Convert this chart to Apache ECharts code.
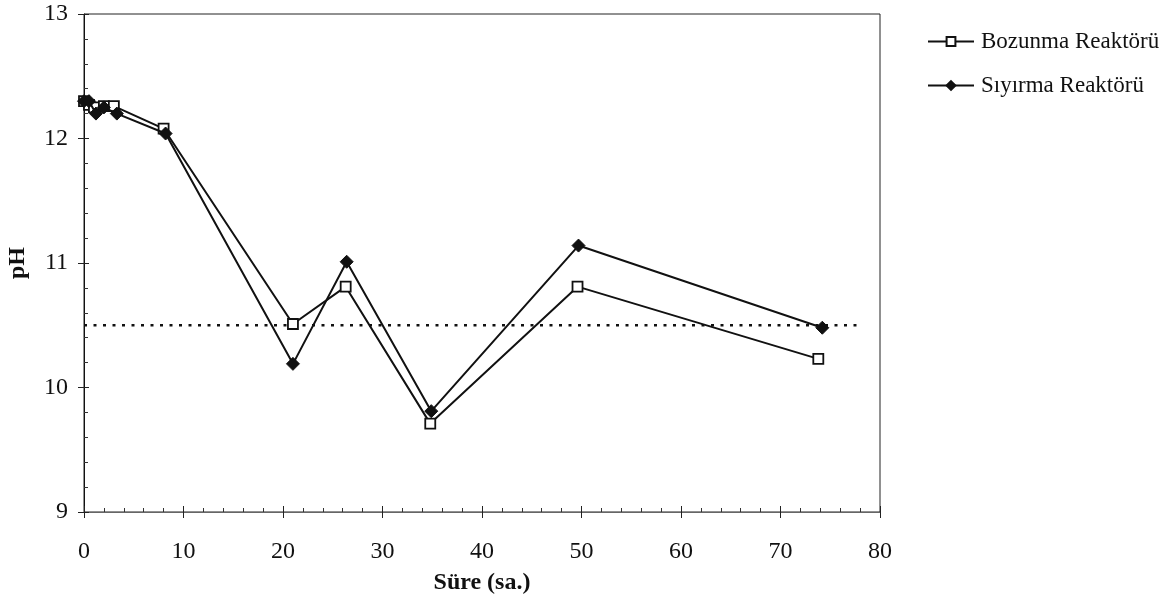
<!DOCTYPE html>
<html>
<head>
<meta charset="utf-8">
<script src="https://cdn.jsdelivr.net/npm/echarts@6/dist/echarts.min.js"></script>
<style>
html,body{margin:0;padding:0;background:#fff;}
#c{width:1171px;height:604px;}
</style>
</head>
<body>
<div id="c"></div>
<script>
// Data
const timeBozunma = [0, 0.5, 1, 2, 3, 8, 21, 26.3, 34.8, 49.6, 73.8];
const phBozunma   = [12.3, 12.27, 12.25, 12.26, 12.26, 12.08, 10.51, 10.81, 9.71, 10.81, 10.23];
const timeSiyirma = [0, 0.5, 1.2, 2, 3.3, 8.2, 21, 26.4, 34.9, 49.7, 74.2];
const phSiyirma   = [12.3, 12.3, 12.2, 12.25, 12.2, 12.04, 10.19, 11.01, 9.81, 11.14, 10.48];
const refLineX = [0, 78];
const refLineY = [10.5, 10.5];
const seriesNames = ['Bozunma Reaktörü', 'Sıyırma Reaktörü'];
const xTitle = 'Süre (sa.)';
const yTitle = 'pH';

const zip = (a, b) => a.map((v, i) => [v, b[i]]);
const FONT = 'Liberation Serif';

const chart = echarts.init(document.getElementById('c'), null, {renderer: 'canvas'});
const baseAxisX = { type: 'value', min: 0, max: 80, interval: 10 };
const baseAxisY = { type: 'value', min: 9, max: 13, interval: 1 };
chart.setOption({
  animation: false,
  backgroundColor: '#fff',
  grid: {left: 84, right: 291, top: 14, bottom: 92, containLabel: false, outerBoundsMode: 'none',
         show: true, borderColor: '#222', borderWidth: 1},
  legend: {
    data: seriesNames,
    orient: 'vertical',
    left: 922, top: 25,
    itemWidth: 46, itemHeight: 11, itemGap: 21,
    textStyle: {fontFamily: FONT, fontSize: 23, color: '#111', padding: [0, 0, 0, 2]},
    inactiveColor: '#111'
  },
  xAxis: [
    Object.assign({}, baseAxisX, {
      name: xTitle, nameLocation: 'middle', nameGap: 59,
      nameTextStyle: {fontFamily: FONT, fontSize: 24, fontWeight: 'bold', color: '#111'},
      axisLine: {lineStyle: {color: '#666', width: 1}},
      axisTick: {inside: false, length: 6, lineStyle: {color: '#222'}},
      axisLabel: {fontFamily: FONT, fontSize: 24, color: '#111', margin: 28},
      splitLine: {show: false}
    }),
    Object.assign({}, baseAxisX, {
      position: 'bottom',
      axisLine: {show: false},
      axisTick: {inside: true, length: 6, lineStyle: {color: '#222'}},
      minorTick: {show: true, splitNumber: 5, length: 4, lineStyle: {color: '#333'}},
      axisLabel: {show: false},
      splitLine: {show: false}
    })
  ],
  yAxis: [
    Object.assign({}, baseAxisY, {
      name: yTitle, nameLocation: 'middle', nameGap: 54, nameRotate: 90,
      nameTextStyle: {fontFamily: FONT, fontSize: 24, fontWeight: 'bold', color: '#111'},
      axisLine: {show: true, lineStyle: {color: '#111', width: 1}},
      axisTick: {show: true, inside: false, length: 6, lineStyle: {color: '#222'}},
      axisLabel: {fontFamily: FONT, fontSize: 24, color: '#111', margin: 16},
      splitLine: {show: false}
    }),
    Object.assign({}, baseAxisY, {
      position: 'left',
      axisLine: {show: false},
      axisTick: {show: true, inside: true, length: 5, lineStyle: {color: '#222'}},
      minorTick: {show: true, splitNumber: 5, length: 4, lineStyle: {color: '#333'}},
      axisLabel: {show: false},
      splitLine: {show: false}
    })
  ],
  series: [
    {
      name: 'ref', type: 'line', data: zip(refLineX, refLineY),
      symbol: 'none', silent: true, z: 1,
      lineStyle: {color: '#111', width: 2.5, type: [3, 6.5]}
    },
    {
      name: seriesNames[0], type: 'line', data: zip(timeBozunma, phBozunma),
      symbol: 'rect', symbolSize: 10,
      itemStyle: {color: '#fff', borderColor: '#111', borderWidth: 1.8},
      lineStyle: {color: '#111', width: 2}, z: 3
    },
    {
      name: seriesNames[1], type: 'line', data: zip(timeSiyirma, phSiyirma),
      symbol: 'diamond', symbolSize: 13,
      itemStyle: {color: '#111', borderColor: '#111', borderWidth: 1},
      lineStyle: {color: '#111', width: 2}, z: 4
    }
  ]
});
</script>
</body>
</html>
